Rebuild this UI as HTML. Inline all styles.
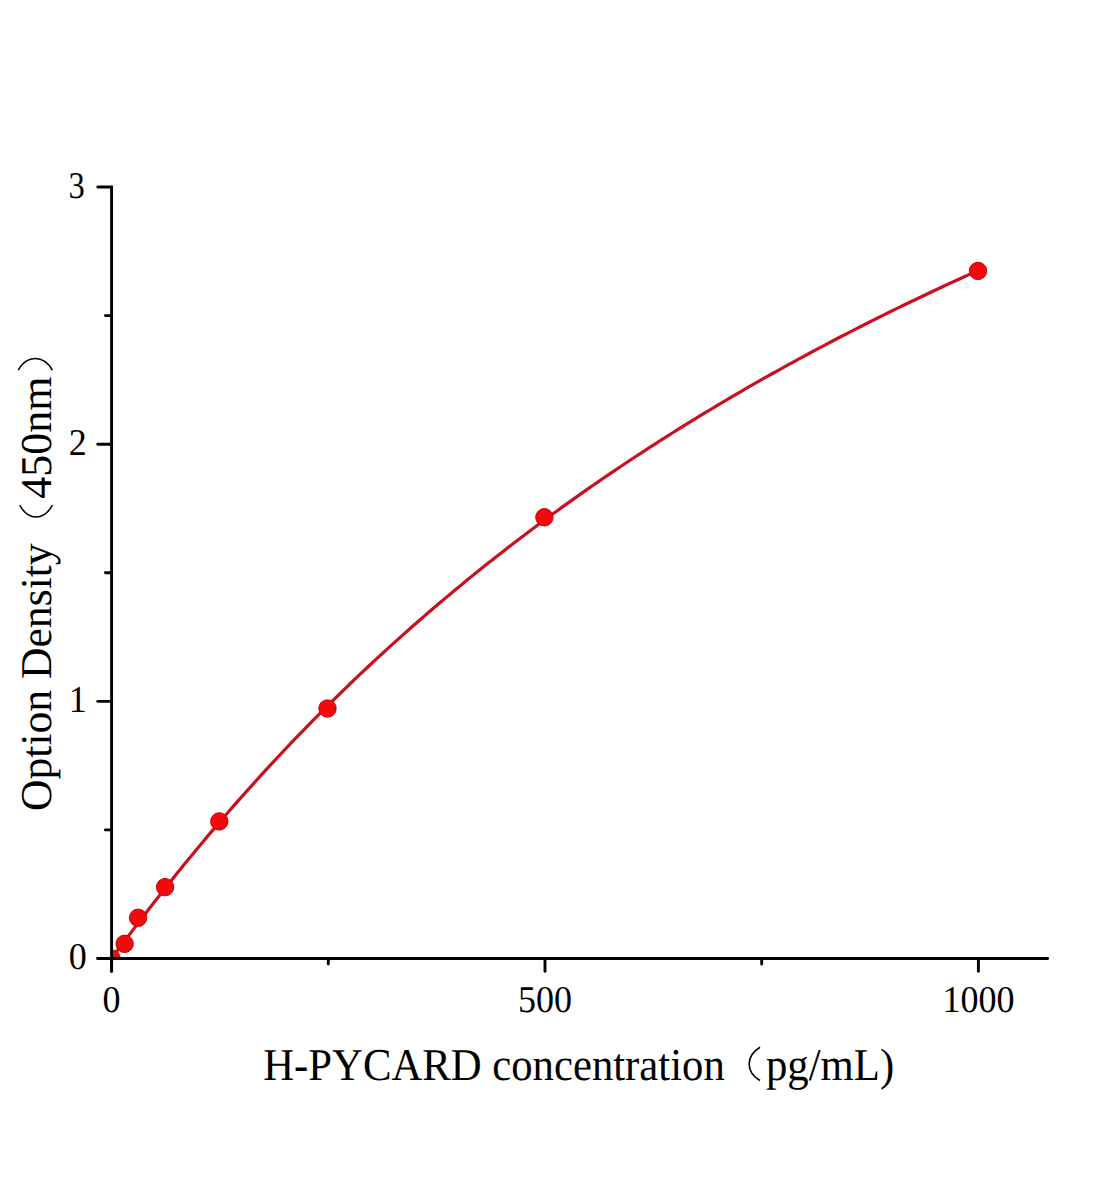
<!DOCTYPE html>
<html><head><meta charset="utf-8">
<style>
html,body{margin:0;padding:0;background:#fff;}
svg{display:block;}
text{font-family:"Liberation Serif", serif;fill:#000;text-rendering:geometricPrecision;}
</style></head>
<body>
<svg width="1104" height="1200" viewBox="0 0 1104 1200">
<rect width="1104" height="1200" fill="#fff"/>
<defs><clipPath id="pa"><rect x="111.6" y="100" width="1000" height="858.5"/></clipPath></defs>
<g clip-path="url(#pa)">
<path d="M111.60,958.15 L112.47,957.04 L113.33,955.91 L114.20,954.77 L115.07,953.63 L115.93,952.48 L116.80,951.33 L117.67,950.18 L118.53,949.03 L119.40,947.88 L120.27,946.73 L121.13,945.58 L122.00,944.43 L122.87,943.28 L123.74,942.13 L124.60,940.98 L125.47,939.83 L126.34,938.68 L127.20,937.53 L128.07,936.38 L128.94,935.23 L129.80,934.09 L130.67,932.94 L131.54,931.80 L132.40,930.65 L133.27,929.51 L134.14,928.37 L135.00,927.23 L135.87,926.09 L136.74,924.95 L137.60,923.82 L139.34,921.55 L144.61,914.66 L149.89,907.82 L155.17,901.03 L160.45,894.29 L165.72,887.60 L171.00,880.96 L176.28,874.36 L181.55,867.82 L186.83,861.33 L192.11,854.89 L197.39,848.50 L202.66,842.16 L207.94,835.87 L213.22,829.63 L218.49,823.44 L223.77,817.30 L229.05,811.20 L234.33,805.16 L239.60,799.16 L244.88,793.21 L250.16,787.31 L255.43,781.45 L260.71,775.64 L265.99,769.87 L271.27,764.16 L276.54,758.48 L281.82,752.85 L287.10,747.27 L292.37,741.72 L297.65,736.23 L302.93,730.77 L308.21,725.36 L313.48,719.98 L318.76,714.65 L324.04,709.36 L329.31,704.11 L334.59,698.91 L339.87,693.74 L345.15,688.61 L350.42,683.52 L355.70,678.46 L360.98,673.45 L366.25,668.47 L371.53,663.54 L376.81,658.63 L382.09,653.77 L387.36,648.94 L392.64,644.15 L397.92,639.39 L403.19,634.67 L408.47,629.98 L413.75,625.32 L419.03,620.71 L424.30,616.12 L429.58,611.57 L434.86,607.05 L440.13,602.56 L445.41,598.11 L450.69,593.68 L455.96,589.29 L461.24,584.93 L466.52,580.61 L471.80,576.31 L477.07,572.04 L482.35,567.80 L487.63,563.60 L492.90,559.42 L498.18,555.27 L503.46,551.15 L508.74,547.06 L514.01,542.99 L519.29,538.96 L524.57,534.95 L529.84,530.97 L535.12,527.02 L540.40,523.09 L545.68,519.20 L550.95,515.32 L556.23,511.48 L561.51,507.66 L566.78,503.86 L572.06,500.09 L577.34,496.35 L582.62,492.63 L587.89,488.93 L593.17,485.26 L598.45,481.62 L603.72,477.99 L609.00,474.40 L614.28,470.82 L619.56,467.27 L624.83,463.74 L630.11,460.24 L635.39,456.75 L640.66,453.29 L645.94,449.85 L651.22,446.44 L656.50,443.04 L661.77,439.67 L667.05,436.32 L672.33,432.99 L677.60,429.68 L682.88,426.39 L688.16,423.12 L693.44,419.87 L698.71,416.65 L703.99,413.44 L709.27,410.25 L714.54,407.08 L719.82,403.94 L725.10,400.81 L730.38,397.70 L735.65,394.61 L740.93,391.53 L746.21,388.48 L751.48,385.45 L756.76,382.43 L762.04,379.43 L767.32,376.45 L772.59,373.49 L777.87,370.54 L783.15,367.62 L788.42,364.71 L793.70,361.81 L798.98,358.94 L804.25,356.08 L809.53,353.24 L814.81,350.41 L820.09,347.60 L825.36,344.81 L830.64,342.03 L835.92,339.27 L841.19,336.53 L846.47,333.80 L851.75,331.09 L857.03,328.39 L862.30,325.71 L867.58,323.04 L872.86,320.39 L878.13,317.75 L883.41,315.13 L888.69,312.53 L893.97,309.93 L899.24,307.36 L904.52,304.79 L909.80,302.24 L915.07,299.71 L920.35,297.19 L925.63,294.68 L930.91,292.19 L936.18,289.71 L941.46,287.24 L946.74,284.79 L952.01,282.35 L957.29,279.93 L962.57,277.52 L967.85,275.12 L973.12,272.73 L978.40,270.36" fill="none" stroke="#C8101E" stroke-width="3.2"/>
<g fill="#F20A0A" stroke="#C8000A" stroke-width="1">
<circle cx="111.60" cy="958.50" r="8.7"/>
<circle cx="124.65" cy="943.80" r="8.7"/>
<circle cx="138.10" cy="917.75" r="8.7"/>
<circle cx="165.10" cy="887.10" r="8.7"/>
<circle cx="219.30" cy="821.40" r="8.7"/>
<circle cx="327.50" cy="708.50" r="8.7"/>
<circle cx="544.40" cy="517.30" r="8.7"/>
<circle cx="978.00" cy="270.90" r="8.7"/>
</g>
</g>
<g stroke="#000" stroke-width="2.9" fill="none" stroke-linecap="round">
<path d="M97.8,187.05 L111.6,187.05 L111.6,971.2" stroke-linejoin="miter"/>
<line x1="97.8" y1="958.5" x2="1047.6" y2="958.5"/>
<line x1="97.8" y1="958.50" x2="111.6" y2="958.50"/>
<line x1="97.8" y1="701.35" x2="111.6" y2="701.35"/>
<line x1="97.8" y1="444.20" x2="111.6" y2="444.20"/>
<line x1="105.4" y1="829.92" x2="111.6" y2="829.92"/>
<line x1="105.4" y1="572.77" x2="111.6" y2="572.77"/>
<line x1="105.4" y1="315.62" x2="111.6" y2="315.62"/>

<line x1="111.60" y1="958.5" x2="111.60" y2="971.2"/>
<line x1="545.00" y1="958.5" x2="545.00" y2="971.2"/>
<line x1="978.40" y1="958.5" x2="978.40" y2="971.2"/>
<line x1="328.30" y1="958.5" x2="328.30" y2="964.1"/>
<line x1="761.70" y1="958.5" x2="761.70" y2="964.1"/>

</g>
<g font-size="36">
<text transform="translate(86.7,969.20) scale(1,1.05)" text-anchor="end">0</text>
<text transform="translate(86.7,712.05) scale(1,1.05)" text-anchor="end">1</text>
<text transform="translate(86.7,454.90) scale(1,1.05)" text-anchor="end">2</text>
<text transform="translate(84.8,197.75) scale(0.904,1.05)" text-anchor="end">3</text>

<text transform="translate(111.60,1011.8) scale(1,1.05)" text-anchor="middle">0</text>
<text transform="translate(545.00,1011.8) scale(1,1.05)" text-anchor="middle">500</text>
<text transform="translate(978.40,1011.8) scale(1,1.05)" text-anchor="middle">1000</text>

</g>
<g id="xl">
<text transform="translate(263.2,1079.7) scale(0.971,1.035)" font-size="44">H-PYCARD concentration</text>
<path d="M760.1,1047.3 C745.5,1056 745.5,1072 760.1,1080.5" fill="none" stroke="#000" stroke-width="1.6"/>
<text transform="translate(766,1079.7) scale(0.971,1.035)" font-size="44">pg/mL)</text>
</g>
<g id="yl">
<text transform="translate(51.3,811) rotate(-90) scale(0.991,1)" font-size="44">Option Density</text>
<path d="M19.75,505 C28,521 44,521 52.4,505" fill="none" stroke="#000" stroke-width="1.6"/>
<text transform="translate(51.3,498.8) rotate(-90)" font-size="44">450nm</text>
<path d="M18.25,370.1 C27,354.6 43.5,354.6 52.4,370.1" fill="none" stroke="#000" stroke-width="1.6"/>
</g>
</svg>
</body></html>
